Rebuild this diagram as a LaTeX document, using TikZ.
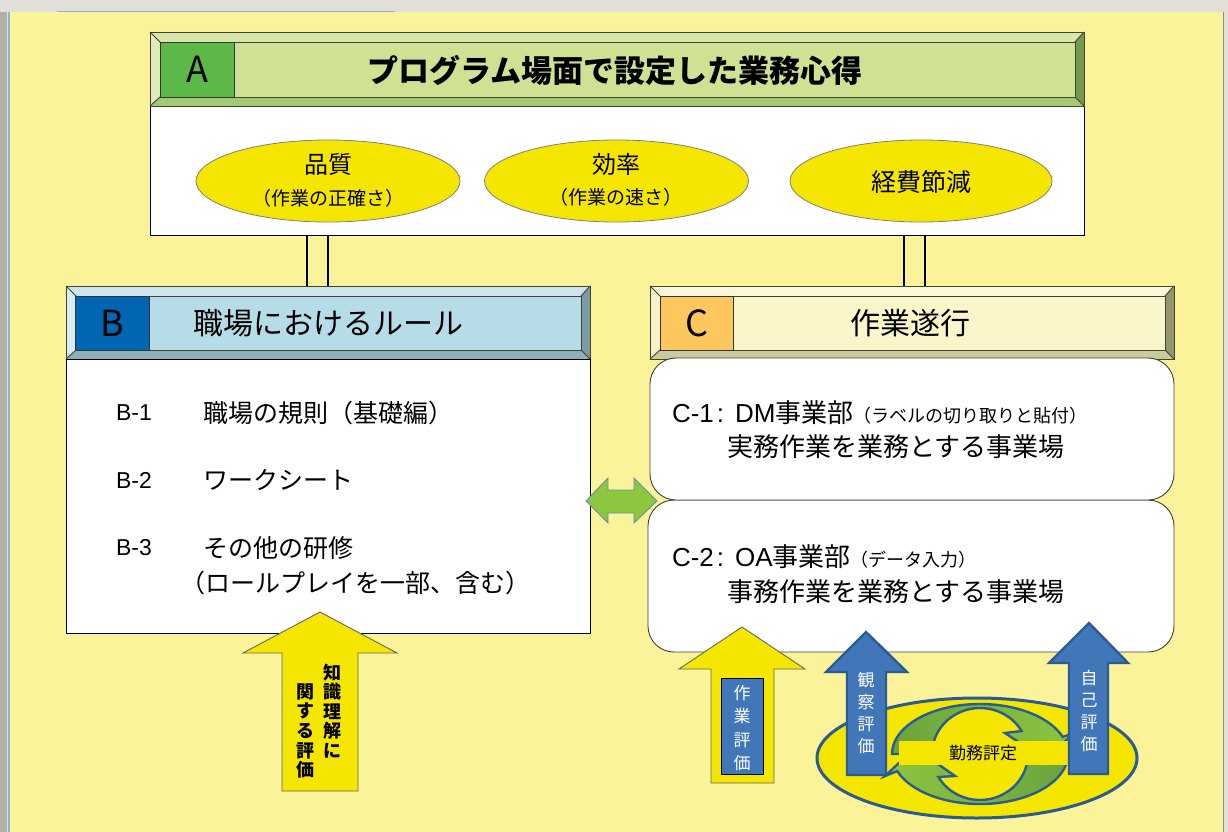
\documentclass[tikz,border=0pt]{standalone}
\usepackage{fontspec}
\setmainfont{Noto Sans CJK JP}
\newfontfamily\latin{Liberation Sans}
\usetikzlibrary{shapes.geometric}
\definecolor{bgyellow}{HTML}{FAF39A}
\definecolor{frgrey}{HTML}{E2DFD8}
\definecolor{frdark}{HTML}{B4B0A8}
\definecolor{frblue}{HTML}{8FB0D8}
\definecolor{elyellow}{HTML}{F5E600}
\definecolor{agreen}{HTML}{5DB947}
\definecolor{bblue}{HTML}{0066B3}
\definecolor{corange}{HTML}{FDC75D}
\definecolor{arrblue}{HTML}{4177B9}
\definecolor{ringblue}{HTML}{2A5B94}
\definecolor{cdark}{HTML}{6AA33F}
\definecolor{clight}{HTML}{8DC63F}
\definecolor{dblgreen}{HTML}{8DC63F}
\definecolor{bevline}{HTML}{3F4530}
% bevel colours
\definecolor{aTop}{HTML}{D8E6A9}\definecolor{aLeft}{HTML}{E0EBBB}\definecolor{aBot}{HTML}{A2C973}\definecolor{aRight}{HTML}{76984F}\definecolor{aFace}{HTML}{CFE193}
\definecolor{bTop}{HTML}{CCE5EE}\definecolor{bLeft}{HTML}{D7ECF3}\definecolor{bBot}{HTML}{8EAFB7}\definecolor{bRight}{HTML}{7C9CA5}\definecolor{bFace}{HTML}{B6DCE7}
\definecolor{cTop}{HTML}{FBF8D9}\definecolor{cLeft}{HTML}{F6F2CB}\definecolor{cBot}{HTML}{CACA9F}\definecolor{cRight}{HTML}{959570}\definecolor{cFace}{HTML}{FAF6CA}
\newcommand\fsz[2]{\fontsize{#1}{#2}\selectfont}
\newcommand\bevelframe[9]{%
  \fill[#5] (#1,#2) -- (#3,#2) -- (#3-9,#2+10) -- (#1+10,#2+10) -- cycle;
  \fill[#6] (#1,#2) -- (#1+10,#2+10) -- (#1+10,#4-9) -- (#1,#4) -- cycle;
  \fill[#7] (#1,#4) -- (#1+10,#4-9) -- (#3-9,#4-9) -- (#3,#4) -- cycle;
  \fill[#8] (#3,#2) -- (#3,#4) -- (#3-9,#4-9) -- (#3-9,#2+10) -- cycle;
  \fill[#9] (#1+10,#2+10) rectangle (#3-9,#4-9);
  \draw[bevelline] (#1,#2) rectangle (#3,#4);
  \draw[bevelline] (#1+10,#2+10) rectangle (#3-9,#4-9);
  \draw[bevelline] (#1,#2) -- (#1+10,#2+10) (#3,#2) -- (#3-9,#2+10)
                   (#1,#4) -- (#1+10,#4-9) (#3,#4) -- (#3-9,#4-9);
}
\tikzset{
  bevelline/.style={draw=bevline, line width=0.9pt},
  conn/.style={draw=black, line width=2.6pt},
  whitebox/.style={draw=black, line width=0.9pt, fill=white},
  roundbox/.style={draw=black!75, line width=0.9pt, fill=white, rounded corners=26pt},
  ellip/.style={ellipse, fill=elyellow, draw=black!50, line width=0.8pt, inner sep=0pt},
  letterbox/.style={draw=black!80, line width=0.9pt},
  yarrow/.style={fill=elyellow, draw=black!60, line width=0.9pt},
  barrow/.style={fill=arrblue, draw=ringblue, line width=2.4pt, line join=miter},
  vtext/.style={align=center, text=white},
}
\begin{document}
\begin{tikzpicture}[x=1pt,y=-1pt, every node/.style={inner sep=0pt, outer sep=0pt}]
\useasboundingbox (0,0) rectangle (1228,832);
% frame
\fill[frgrey] (0,0) rectangle (1228,832);
\fill[frdark] (0,12) rectangle (7,832);
\fill[bgyellow] (10,12) rectangle (1223,832);
\draw[frblue, line width=1.2pt] (9,12) -- (9,832);
\draw[black!45, line width=1.5pt] (1223.5,12) -- (1223.5,832);
\draw[frblue, line width=1.5pt] (57,11.5) -- (395,11.5);

% ---------- A ----------
\node[whitebox, minimum width=934pt, minimum height=129pt] (Abody) at (617,170.5) {};
\bevelframe{150}{32}{1084}{106}{aTop}{aLeft}{aBot}{aRight}{aFace}
\fill[agreen] (160,42) rectangle (234,97);
\draw[letterbox] (160,42) rectangle (234,97);
\node[font=\fsz{36}{36}] (Aletter) at (197,69.5) {A};
\node[font=\fsz{31}{31}\bfseries] (Atitle) at (615,70) {プログラム場面で設定した業務心得};

\node[ellip, minimum width=264pt, minimum height=82pt] (q1) at (328,181) {};
\node[ellip, minimum width=264pt, minimum height=82pt] (q2) at (616.5,181) {};
\node[ellip, minimum width=262pt, minimum height=82pt] (q3) at (921,181) {};
\node[font=\fsz{24}{24}] (q1a) at (328,164) {品質};
\node[font=\fsz{19}{19}] (q1b) at (328,198) {（作業の正確さ）};
\node[font=\fsz{24}{24}] (q2a) at (616,164) {効率};
\node[font=\fsz{19}{19}] (q2b) at (616,197) {（作業の速さ）};
\node[font=\fsz{25}{25}] (q3a) at (921,182) {経費節減};

% connectors
\coordinate (AL1) at (307,235); \coordinate (AL2) at (328,235);
\coordinate (AR1) at (904,235); \coordinate (AR2) at (925,235);
\coordinate (BT1) at (307,286); \coordinate (BT2) at (328,286);
\coordinate (CT1) at (904,286); \coordinate (CT2) at (925,286);
\draw[conn] (AL1) -- (BT1); \draw[conn] (AL2) -- (BT2);
\draw[conn] (AR1) -- (CT1); \draw[conn] (AR2) -- (CT2);

% ---------- B ----------
\bevelframe{66}{286}{590}{359}{bTop}{bLeft}{bBot}{bRight}{bFace}
\fill[bblue] (75,296) rectangle (149,350);
\draw[letterbox] (75,296) rectangle (149,350);
\node[font=\fsz{36}{36}] (Bletter) at (112,323) {B};
\node[font=\fsz{30}{30}] (Btitle) at (328,323) {職場におけるルール};
\node[whitebox, minimum width=524pt, minimum height=274pt] (Bbody) at (328,496) {};
\node[font=\latin\fsz{23}{23}, anchor=west] (b1a) at (116,413) {B-1};
\node[font=\fsz{25}{25}, anchor=west] (b1b) at (203,413) {職場の規則（基礎編）};
\node[font=\latin\fsz{23}{23}, anchor=west] (b2a) at (116,480) {B-2};
\node[font=\fsz{25}{25}, anchor=west] (b2b) at (203,480) {ワークシート};
\node[font=\latin\fsz{23}{23}, anchor=west] (b3a) at (116,548) {B-3};
\node[font=\fsz{25}{25}, anchor=west] (b3b) at (203,548) {その他の研修};
\node[font=\fsz{25}{25}, anchor=west] (b3c) at (180,583) {（ロールプレイを一部、含む）};

% ---------- C ----------
\bevelframe{650}{286}{1174}{359}{cTop}{cLeft}{cBot}{cRight}{cFace}
\fill[corange] (660,296) rectangle (733,350);
\draw[letterbox] (660,296) rectangle (733,350);
\node[font=\fsz{36}{36}] (Cletter) at (697,323) {C};
\node[font=\fsz{30}{30}] (Ctitle) at (910,323) {作業遂行};
\draw[roundbox] (648,500) rectangle (1174,652);
\node (C2box) at (911,576) {};
\draw[roundbox] (650,358) rectangle (1174,500);
\node (C1box) at (912,429) {};
\node[font=\fsz{26}{26}, anchor=west] (c1a) at (672,413) {{\latin C-1\hspace{3pt}:\hspace{11pt}DM}事業部{\fsz{18}{18}（ラベルの切り取りと貼付）}};
\node[font=\fsz{26}{26}, anchor=west] (c1b) at (727,447) {実務作業を業務とする事業場};
\node[font=\fsz{26}{26}, anchor=west] (c2a) at (672,557) {{\latin C-2\hspace{3pt}:\hspace{11pt}OA}事業部{\fsz{18}{18}（データ入力）}};
\node[font=\fsz{26}{26}, anchor=west] (c2b) at (727,592) {事務作業を業務とする事業場};

% double arrow
\draw[fill=dblgreen, draw=ringblue!70, line width=0.9pt, line join=miter]
  (586,501) -- (608,478) -- (608,490) -- (634,490) -- (634,478) -- (657,501)
  -- (634,523) -- (634,513) -- (608,513) -- (608,523) -- cycle;

% knowledge arrow
\draw[yarrow] (320,612) -- (397,653) -- (358,653) -- (358,791) -- (282,791) -- (282,653) -- (243,653) -- cycle;
\node[font=\fsz{18}{19.6}\bfseries, align=center] (k1) at (332,711) {知\\識\\理\\解\\に};
\node[font=\fsz{18}{19.6}\bfseries, align=center] (k2) at (305,731) {関\\す\\る\\評\\価};

% work evaluation arrow
\draw[yarrow] (742,627) -- (805,669) -- (774,669) -- (774,783) -- (711,783) -- (711,669) -- (679,669) -- cycle;
\draw[fill=arrblue, draw=black, line width=1pt] (721,678) rectangle (763,774);
\node[vtext, font=\fsz{17}{23.3}] (w1) at (742,728) {作\\業\\評\\価};

% cycle
\node[ellipse, fill=elyellow, draw=ringblue, line width=3pt, minimum width=320pt, minimum height=120pt] (cyc) at (977,758) {};
\path[draw=ringblue, line width=2.4pt, left color=cdark, right color=clight, line join=miter]
  (892,754) arc[start angle=180, end angle=340, x radius=88, y radius=50]
  -- (1074,733) -- (1045,760) -- (1005,733) -- (1021.6,731)
  arc[start angle=330, end angle=180, x radius=48, y radius=46] -- cycle;
\path[draw=ringblue, line width=2.4pt, left color=clight, right color=cdark, line join=miter]
  (1068,754) arc[start angle=0, end angle=160, x radius=88, y radius=50]
  -- (885,776) -- (915,748) -- (955,776) -- (938.4,777)
  arc[start angle=150, end angle=0, x radius=48, y radius=46] -- cycle;
\fill[elyellow] (899,741) rectangle (1070,765);
\node[font=\fsz{17}{17}] (kinmu) at (983,753) {勤務評定};

% blue arrows
\draw[barrow] (866,632) -- (907,672) -- (886,672) -- (886,775) -- (847,775) -- (847,672) -- (826,672) -- cycle;
\node[vtext, font=\fsz{17}{22}] (o1) at (866,713) {観\\察\\評\\価};
\draw[barrow] (1089,623) -- (1128,663) -- (1108,663) -- (1108,774) -- (1069,774) -- (1069,663) -- (1049,663) -- cycle;
\node[vtext, font=\fsz{17}{22}] (s1) at (1089,711) {自\\己\\評\\価};
\end{tikzpicture}
\end{document}
